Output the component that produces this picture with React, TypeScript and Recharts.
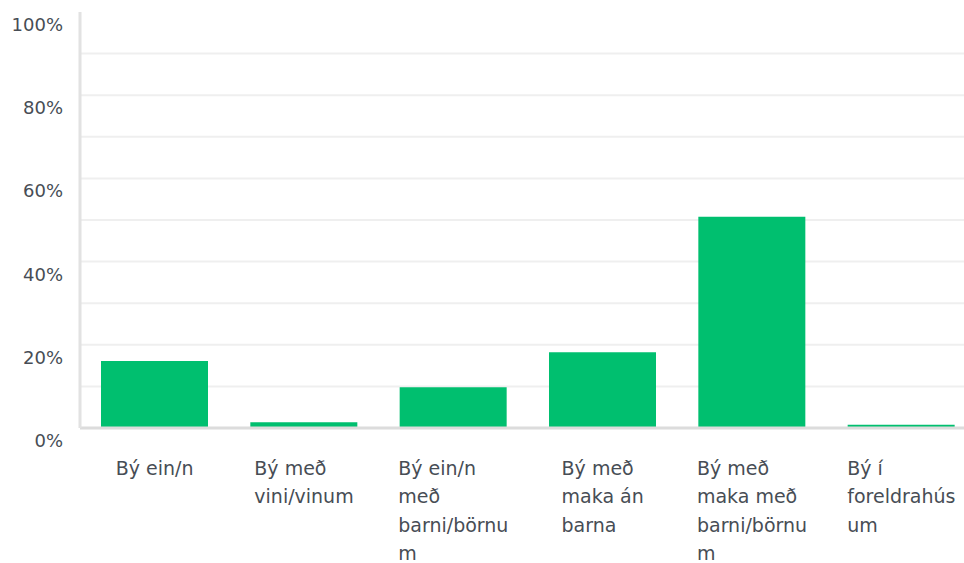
import { BarChart, Bar, XAxis, YAxis, CartesianGrid } from "recharts";

const categories = [
  "Bý ein/n",
  "Bý með vini/vinum",
  "Bý ein/n með barni/börnum",
  "Bý með maka án barna",
  "Bý með maka með barni/börnum",
  "Bý í foreldrahúsum",
];

// wrapped the way the original survey tool breaks them
const labelLines = [
  ["Bý ein/n"],
  ["Bý með", "vini/vinum"],
  ["Bý ein/n", "með", "barni/börnu", "m"],
  ["Bý með", "maka án", "barna"],
  ["Bý með", "maka með", "barni/börnu", "m"],
  ["Bý í", "foreldrahús", "um"],
];

const shares = [16.1, 1.4, 9.8, 18.2, 50.8, 0.8];

const yTicks = [0, 10, 20, 30, 40, 50, 60, 70, 80, 90, 100];
// the reference draws no line along the 100% top edge
const gridValues = yTicks.filter((t) => t > 0 && t < 100);

const data = categories.map((name, i) => ({ name, value: shares[i] }));

const FONT = "DejaVu Sans";
const TEXT_COLOR = "#474d55";
const LABEL_SIZE = 19;

let ctx: CanvasRenderingContext2D | null = null;
const measure = (s: string) => {
  if (!ctx) ctx = document.createElement("canvas").getContext("2d");
  if (!ctx) return s.length * LABEL_SIZE * 0.6;
  ctx.font = `${LABEL_SIZE}px "${FONT}"`;
  return ctx.measureText(s).width;
};

const CategoryTick = ({ x, y, payload }: any) => {
  const idx = categories.indexOf(payload.value);
  const lines = labelLines[idx] || [payload.value];
  const blockWidth = Math.max(...lines.map(measure));
  return (
    <text
      x={x - blockWidth / 2}
      y={y}
      fill={TEXT_COLOR}
      fontSize={LABEL_SIZE}
      fontFamily={FONT}
      textAnchor="start"
    >
      {lines.map((line: string, i: number) => (
        <tspan key={i} x={x - blockWidth / 2} dy={i === 0 ? 39 : 28.3}>
          {line}
        </tspan>
      ))}
    </text>
  );
};

const PercentTick = ({ x, y, payload }: any) => {
  if (payload.value % 20 !== 0) return <g />;
  return (
    <text
      x={x - 9}
      y={y + 19}
      fill={TEXT_COLOR}
      fontSize={18}
      fontFamily={FONT}
      textAnchor="end"
    >
      {payload.value}%
    </text>
  );
};

export default function App() {
  return (
    <div
      style={{
        position: "absolute",
        left: 0,
        top: 0,
        width: 964,
        height: 563,
        overflow: "hidden",
        background: "#fff",
      }}
    >
      <BarChart
        width={976}
        height={563}
        data={data}
        margin={{ top: 12, right: 0, left: 0, bottom: 0 }}
      >
        <CartesianGrid
          vertical={false}
          horizontalValues={gridValues}
          stroke="#efefef"
          strokeWidth={2}
        />
        <XAxis
          dataKey="name"
          height={135}
          interval={0}
          tickLine={false}
          axisLine={{ stroke: "#dcdcdc", strokeWidth: 3 }}
          tick={<CategoryTick />}
        />
        <YAxis
          width={80}
          domain={[0, 100]}
          ticks={yTicks}
          interval={0}
          tickLine={false}
          axisLine={{ stroke: "#e2e2e2", strokeWidth: 3 }}
          tick={<PercentTick />}
        />
        <Bar dataKey="value" fill="#00bf6f" barSize={107} isAnimationActive={false} />
      </BarChart>
    </div>
  );
}
